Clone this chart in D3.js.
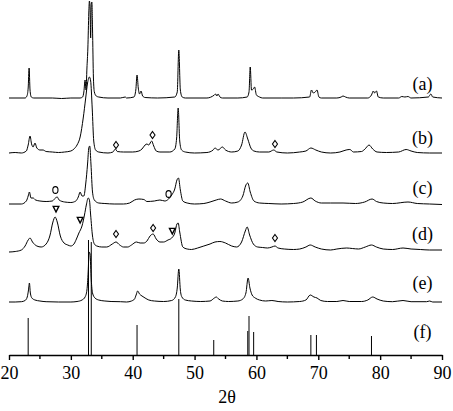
<!DOCTYPE html>
<html><head><meta charset="utf-8">
<script src="https://cdn.jsdelivr.net/npm/d3@7/dist/d3.min.js"></script>
<style>html,body{margin:0;padding:0;background:#fff;}svg{display:block;}
text{font-family:"Liberation Serif","Times New Roman","DejaVu Serif",serif;}</style>
</head><body>
<svg id="chart" width="453" height="411"></svg>
<script>
// ---- DATA (2θ in degrees, intensity in arbitrary units above each pattern's baseline) ----
const xTicks = [20, 30, 40, 50, 60, 70, 80, 90];
const xMinorTicks = [25, 35, 45, 55, 65, 75, 85];
const patternLabels = ["(a)", "(b)", "(c)", "(d)", "(e)", "(f)"];
const xLabel = "2θ";

const patternA = [[20,0],[22.6,0],[22.9,2],[23.1,10],[23.25,30],[23.4,8],[23.6,1],[24,0],[27,0],[28.5,-0.5],[30,0],[31.5,0],[31.9,1],[32.1,6],[32.3,18],[32.45,8],[32.6,30],[32.75,50],[32.9,85],[33.0,97],[33.1,90],[33.2,60],[33.3,94],[33.4,96],[33.5,70],[33.65,20],[33.8,6],[34.1,2],[34.5,1],[36,0],[38,0],[38.8,1],[39,0],[40.2,1],[40.5,8],[40.7,23],[40.9,10],[41.1,4],[41.35,7],[41.6,2],[42,0.5],[44,0],[46.8,1],[47.2,6],[47.45,48],[47.7,8],[48,1],[48.5,0],[52,0],[53.2,3],[53.4,4],[53.6,2],[53.8,4],[54.1,1],[54.5,0],[57,0],[58.5,1],[58.8,6],[59.0,31],[59.2,8],[59.5,9],[59.7,11],[60,3],[60.5,1],[61,0],[64,0],[66,0],[68.6,1],[68.9,8],[69.2,5],[69.5,6],[69.8,8],[70.1,1],[70.5,0],[73,0],[73.7,1],[74,2],[74.4,1],[75,0],[78,0],[78.6,3],[78.9,7],[79.1,5],[79.4,7],[79.7,1],[80.5,0],[83,0],[83.5,1.5],[84,1],[84.5,1.5],[85,0],[87.8,1],[88.2,4],[88.5,1],[90,0]];

const patternB = [[20,0],[21,0.5],[22,0],[22.8,2],[23.1,8],[23.4,17],[23.65,9],[23.9,6],[24.2,10],[24.5,5],[25,3],[25.5,3],[26,1.5],[27,1],[28,0.5],[29,1],[30,2],[30.5,4],[31,8],[31.5,16],[32,35],[32.4,55],[32.7,70],[33.0,76],[33.2,72],[33.45,45],[33.7,12],[34,3],[34.5,1],[36,0],[36.8,1],[37.2,4],[37.5,1.5],[38.5,1],[40,1],[41,2],[41.5,4],[42,8],[42.3,9],[42.6,8],[43.05,12],[43.4,7],[43.8,2],[44.4,1],[46,1],[46.8,4],[47.1,15],[47.35,45],[47.6,12],[47.9,3],[48.5,1],[50,0],[52,0.5],[53,3],[53.3,5],[53.8,3],[54.5,6],[55,3],[56,1],[57,2],[57.6,8],[58.15,21],[58.6,14],[59.1,5],[59.6,2],[60.5,1],[62,1],[62.8,3],[63.3,1],[65,0],[67,1],[68,2],[68.8,5],[69.6,3],[70.5,1],[72,0],[73.5,1],[74.5,3],[75.1,3.5],[75.7,1],[77,1.5],[77.7,5],[78.2,8],[78.8,4],[79.5,1],[81,0.5],[83,1],[84.2,3.5],[85,2],[86,0.5],[88,0],[90,0]];

const patternC = [[20,0],[22,0],[22.8,3],[23.1,8],[23.3,12],[23.55,6],[23.9,6],[24.3,4],[25,3],[26,2.5],[27,3],[27.5,6],[27.8,7],[28.1,4],[29,2],[30,1.5],[30.8,3],[31.2,7],[31.5,12],[31.8,8],[32.1,8],[32.4,20],[32.7,40],[32.9,56],[33.05,58],[33.25,40],[33.5,12],[33.8,4],[34.5,1],[35.5,0.5],[37,0],[38.5,0],[39.5,1],[40.3,4],[41,5],[41.8,4.5],[42.3,2.5],[43.5,3],[44.4,4],[45.2,3],[45.8,5],[46.3,9],[46.8,15],[47.15,24],[47.4,26],[47.7,14],[48.1,3],[48.8,1],[50,0],[51.5,0.5],[52.5,2],[53.5,4],[54.2,5],[55,3],[56,1],[57,2],[57.8,8],[58.3,19],[58.6,21],[59,12],[59.6,3],[60.5,1],[62,0.5],[64,0],[66,0.5],[67.5,2],[68.8,6],[69.5,3],[70.5,1],[72,1],[74,1],[76,0.5],[77.5,2],[78.7,5],[79.4,2.5],[80.5,1],[82,0.5],[84.5,2],[86,0.5],[88,0],[90,-0.5]];

const patternD = [[20,-2],[21,-1.5],[22,0],[22.6,4],[23.1,10],[23.4,12],[23.8,8],[24.5,4],[25.2,3],[26,6],[26.6,14],[27.1,28],[27.45,33],[27.8,28],[28.3,14],[28.9,7],[29.5,5],[30,4],[30.5,6],[30.9,11],[31.3,17],[31.8,24],[32.2,35],[32.5,45],[32.8,52],[33.0,50],[33.2,35],[33.5,14],[33.8,6],[34.2,4],[35,3],[35.8,3],[36.7,6],[37.3,8],[37.9,5],[38.5,3],[39.2,3],[39.8,5],[40.6,8],[41.2,7],[41.8,7],[42.3,9],[42.8,14],[43.3,16],[43.8,11],[44.4,8],[45,8],[45.7,10],[46.3,12],[46.8,17],[47.15,26],[47.35,27],[47.6,18],[48.1,3],[48.8,1],[49.5,0.5],[50.5,2],[51.5,4],[52.5,6],[53.3,8],[54.1,8.5],[55,7],[56,4],[56.8,3],[57.6,8],[58.2,19],[58.5,23],[58.9,15],[59.5,6],[60.2,3],[61,2.5],[61.8,2],[62.5,3],[63,4],[63.5,2],[64.5,1],[66,0.5],[67,1],[68,3],[68.7,5],[69.5,3],[70.5,1],[72,0],[73,1],[74.6,2],[75.5,1.5],[76.5,1],[77.6,3],[78.6,5],[79.4,3],[80.5,1],[82,0.5],[83.7,2],[85,1],[86.5,0.5],[88,0],[90,0]];

const patternE = [[20,0],[21,0],[22,0.3],[22.6,1.5],[22.95,5],[23.15,12],[23.3,19],[23.45,9],[23.7,4],[24.2,2],[25,1],[26,0.3],[28,0],[30,0],[31,0.5],[31.8,2],[32.3,5],[32.6,12],[32.8,30],[32.95,50],[33.1,48],[33.3,22],[33.5,9],[33.9,4],[34.5,2],[35.5,1],[36.5,0.5],[38,0.3],[39,0],[39.8,1],[40.3,3],[40.55,7],[40.8,11],[41.1,8],[41.5,6],[42,4],[42.6,2],[43.5,1],[45,0.5],[46.3,1.5],[46.9,5],[47.2,14],[47.45,33],[47.7,12],[47.95,5],[48.5,2],[49.5,1],[51,0.5],[52.5,1],[53.2,4],[53.5,5],[53.9,3],[54.5,1],[55.5,0.5],[57,1],[57.8,3],[58.3,9],[58.65,24],[58.95,14],[59.3,7],[59.8,4],[60.5,2],[61.5,1],[62.5,1.5],[63.5,0.5],[65,0],[67,0.5],[68,2],[68.7,7],[69.3,5],[69.8,4],[70.4,1.5],[71.5,0.5],[73,0.5],[74,1.5],[75,0.5],[77,0.5],[78,2],[78.8,5],[79.5,3],[80.5,1],[82,0.3],[83.7,1.5],[85,0.3],[87.5,0.3],[88,1],[88.5,0],[90,0]];

// (f) reference pattern: [2θ, relative intensity]
const referenceSticks = [[23.1,37],[32.85,115],[33.3,113],[40.7,30],[47.45,56],[53.1,15],[58.6,24],[58.8,39],[59.55,23],[68.8,20],[69.7,20],[78.6,19]];

// phase markers: [pattern index, 2θ, height above baseline]
const diamondMarks = [[1,37.3,8],[1,43.2,18],[1,63.0,9],[3,37.3,16],[3,43.3,22],[3,63.0,12]];
const circleMarks = [[2,27.5,14],[2,45.8,10]];
const triangleMarks = [[3,27.6,41],[3,31.5,30],[3,46.4,19]];

// ---- LAYOUT ----
const patterns = [patternA, patternB, patternC, patternD, patternE];
const baselineOffsets = [257, 202, 151, 105, 53, 0];   // vertical stacking offset of each pattern
const labelOffsets = [265.5, 211.5, 161.5, 115, 66.5, 17];
const serif = "'Liberation Serif','Times New Roman','DejaVu Serif',serif";

const svg = d3.select("#chart");
const x = d3.scaleLinear().domain([20, 90]).range([9, 442]);
const y = d3.scaleLinear().domain([0, 355]).range([355, 0]);

const line = d3.line()
  .x(d => x(d[0]))
  .y(d => y(d[1]))
  .curve(d3.curveMonotoneX);

const g = svg.append("g");

patterns.forEach((p, i) => {
  g.append("path")
    .attr("d", line(p.map(d => [d[0], d[1] + baselineOffsets[i]])))
    .attr("fill", "none")
    .attr("stroke", "#000")
    .attr("stroke-width", 1)
    .attr("stroke-linejoin", "round");
});

// reference sticks
g.selectAll("line.stick").data(referenceSticks).join("line")
  .attr("class", "stick")
  .attr("x1", d => x(d[0])).attr("x2", d => x(d[0]))
  .attr("y1", y(baselineOffsets[5])).attr("y2", d => y(baselineOffsets[5] + d[1]))
  .attr("stroke", "#000").attr("stroke-width", 1);

// markers
const mk = g.append("g").attr("fill", "none").attr("stroke", "#000").attr("stroke-width", 1.1);
mk.selectAll("path.dia").data(diamondMarks).join("path")
  .attr("d", d => {
    const cx = x(d[1]), cy = y(baselineOffsets[d[0]] + d[2]);
    return `M${cx},${cy-3.5}L${cx+2.5},${cy}L${cx},${cy+3.5}L${cx-2.5},${cy}Z`;
  });
mk.selectAll("ellipse").data(circleMarks).join("ellipse")
  .attr("cx", d => x(d[1])).attr("cy", d => y(baselineOffsets[d[0]] + d[2]))
  .attr("rx", 2.6).attr("ry", 3.4);
mk.selectAll("path.tri").data(triangleMarks).join("path")
  .attr("stroke-width", 1.4)
  .attr("d", d => {
    const cx = x(d[1]), cy = y(baselineOffsets[d[0]] + d[2]);
    return `M${cx-2.8},${cy-2.6}L${cx+2.8},${cy-2.6}L${cx},${cy+3}Z`;
  });

// labels
svg.selectAll("text.lab").data(patternLabels).join("text")
  .attr("class", "lab")
  .attr("x", 422.5)
  .attr("y", (d, i) => y(labelOffsets[i]))
  .attr("text-anchor", "middle")
  .style("font-family", serif)
  .attr("font-size", 18)
  .attr("fill", "#000")
  .text(d => d);

// x axis
const axis = svg.append("g").attr("transform", `translate(0,${y(0)})`)
  .call(d3.axisBottom(x).tickValues(xTicks).tickSize(5).tickSizeOuter(0).tickPadding(6));
axis.select(".domain").attr("stroke-width", 1.4);
axis.selectAll(".tick line").attr("stroke-width", 1.4);
axis.selectAll(".tick text")
  .style("font-family", serif)
  .attr("font-size", 18).attr("fill", "#000");
axis.selectAll("line.minor").data(xMinorTicks).join("line")
  .attr("class", "minor")
  .attr("x1", d => x(d)).attr("x2", d => x(d))
  .attr("y1", 0).attr("y2", 4)
  .attr("stroke", "#000").attr("stroke-width", 1.4);

svg.append("text")
  .attr("x", 227).attr("y", 403)
  .attr("text-anchor", "middle")
  .style("font-family", serif)
  .attr("font-size", 18).attr("fill", "#000")
  .text(xLabel);
</script>
</body></html>
